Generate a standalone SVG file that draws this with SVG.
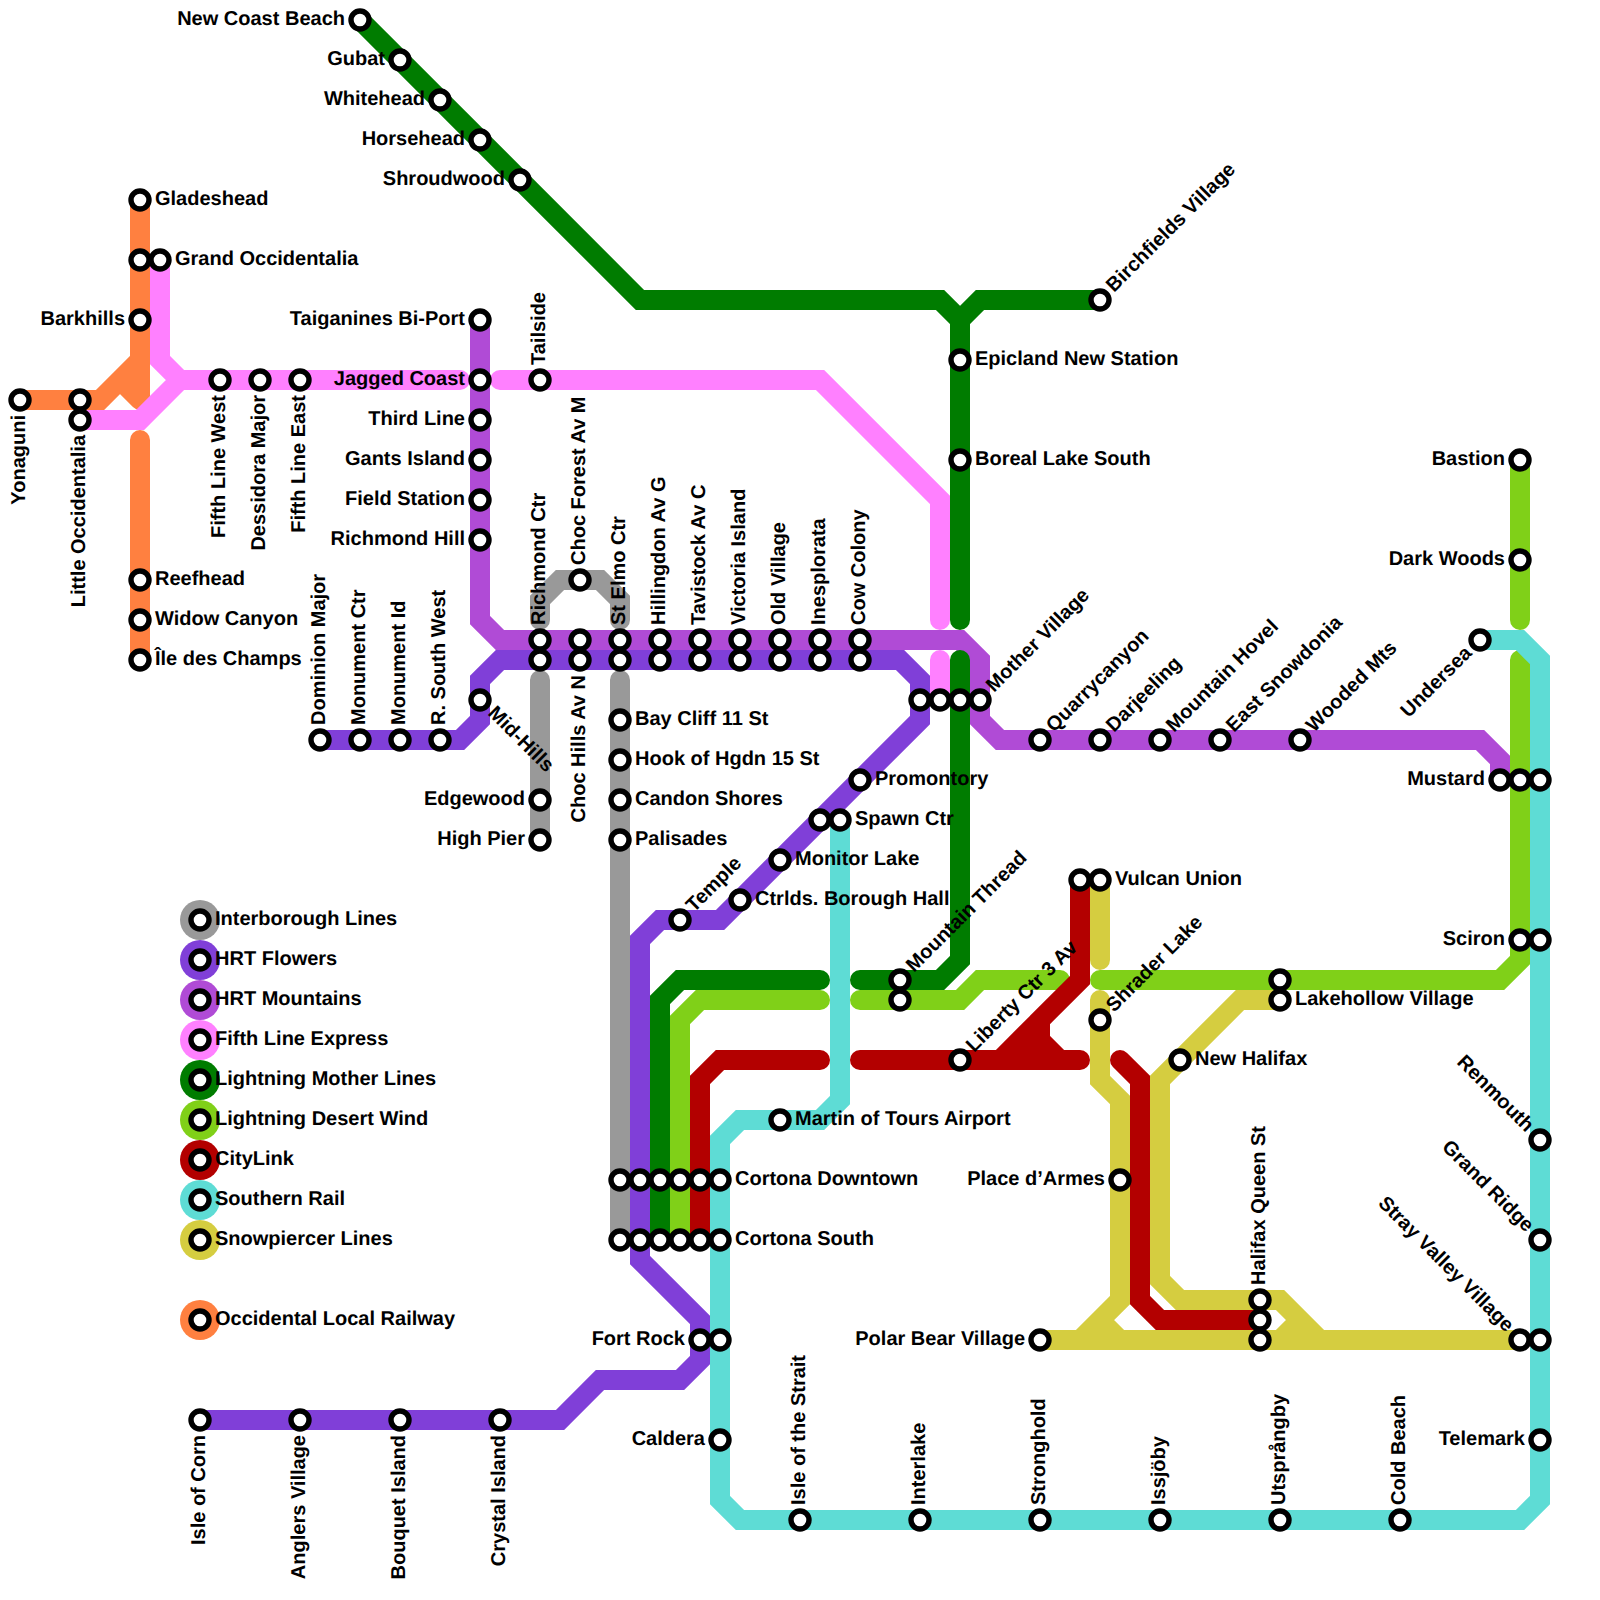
<svg xmlns="http://www.w3.org/2000/svg" width="1600" height="1600" viewBox="0 0 1600 1600">
<style>
text{font-family:"Liberation Sans",Arial,sans-serif;font-weight:bold;font-size:20px;fill:#000;text-rendering:geometricPrecision}
.e{text-anchor:end}
.st{fill:#fff;stroke:#000;stroke-width:5.4}
.l{fill:none;stroke-width:20;stroke-linecap:round;stroke-linejoin:miter}
.orange{stroke:#ff8040}.pink{stroke:#ff80ff}.gray{stroke:#999}.flowers{stroke:#803fd8}.mount{stroke:#b04bd6}.green{stroke:#007c00}.desert{stroke:#80d018}.red{stroke:#b30000}.south{stroke:#5edcd5}.snow{stroke:#d5cd40}
</style>
<rect width="1600" height="1600" fill="#fff"/>
<g id="connectors">
<path class="l orange" d="M20,400H100L140,360M140,200V400M120,380L140,400M140,440V660"/>
<path class="l gray" d="M540,620V600L560,580H600L620,600V620M540,680V840M620,680V1240"/>
<path class="l flowers" d="M320,740H460L480,720V680L500,660H900L920,680V720L720,920H660L640,940V1260L700,1320V1360L680,1380H600L560,1420H200"/>
<path class="l mount" d="M480,320V620L500,640H960L980,660V720L1000,740H1480L1500,760V780"/>
<path class="l pink" d="M160,260V360L180,380H460M80,420H140L180,380M500,380H820L940,500V620M940,660V700"/>
<path class="l green" d="M360,20L640,300H940L960,320V620M1100,300H980L960,320M960,660V960L940,980H860M820,980H680L660,1000V1240"/>
<path class="l desert" d="M1520,460V620M1520,660V960L1500,980H1100M1060,980H980L960,1000H860M820,1000H700L680,1020V1240"/>
<path class="l red" d="M1080,880V980L1000,1060M860,1060H1080M1080,980L1040,1020V1040L1060,1060M1040,1040L1030,1050M820,1060H720L700,1080V1240M1120,1060L1140,1080V1300L1160,1320H1260"/>
<path class="l south" d="M1480,640H1520L1540,660V1500L1520,1520H740L720,1500V1140L740,1120H820L840,1100V820"/>
<path class="l snow" d="M1100,880V960M1100,1000V1080L1120,1100V1300L1080,1340M1040,1340H1520M1100,1320L1120,1340M1280,1000H1240L1160,1080V1280L1180,1300H1280L1320,1340M1300,1320L1280,1340"/>
</g>
<g id="legend">
<g id="legend-interborough"><circle cx="200" cy="920" r="20" fill="#999"/><circle class="st" cx="200" cy="920" r="9"/><text x="215" y="925">Interborough Lines</text></g>
<g id="legend-flowers"><circle cx="200" cy="960" r="20" fill="#803fd8"/><circle class="st" cx="200" cy="960" r="9"/><text x="215" y="965">HRT Flowers</text></g>
<g id="legend-mountains"><circle cx="200" cy="1000" r="20" fill="#b04bd6"/><circle class="st" cx="200" cy="1000" r="9"/><text x="215" y="1005">HRT Mountains</text></g>
<g id="legend-fifth"><circle cx="200" cy="1040" r="20" fill="#ff80ff"/><circle class="st" cx="200" cy="1040" r="9"/><text x="215" y="1045">Fifth Line Express</text></g>
<g id="legend-mother"><circle cx="200" cy="1080" r="20" fill="#007c00"/><circle class="st" cx="200" cy="1080" r="9"/><text x="215" y="1085">Lightning Mother Lines</text></g>
<g id="legend-desert"><circle cx="200" cy="1120" r="20" fill="#80d018"/><circle class="st" cx="200" cy="1120" r="9"/><text x="215" y="1125">Lightning Desert Wind</text></g>
<g id="legend-citylink"><circle cx="200" cy="1160" r="20" fill="#b30000"/><circle class="st" cx="200" cy="1160" r="9"/><text x="215" y="1165">CityLink</text></g>
<g id="legend-southern"><circle cx="200" cy="1200" r="20" fill="#5edcd5"/><circle class="st" cx="200" cy="1200" r="9"/><text x="215" y="1205">Southern Rail</text></g>
<g id="legend-snowpiercer"><circle cx="200" cy="1240" r="20" fill="#d5cd40"/><circle class="st" cx="200" cy="1240" r="9"/><text x="215" y="1245">Snowpiercer Lines</text></g>
<g id="legend-occidental"><circle cx="200" cy="1320" r="20" fill="#ff8040"/><circle class="st" cx="200" cy="1320" r="9"/><text x="215" y="1325">Occidental Local Railway</text></g>
</g>
<g id="stations">
<g id="n-gladeshead"><circle class="st" cx="140" cy="200" r="9"/><text x="155" y="205">Gladeshead</text></g>
<g id="n-occ-a"><circle class="st" cx="140" cy="260" r="9"/></g>
<g id="n-grand-occidentalia"><circle class="st" cx="160" cy="260" r="9"/><text x="175" y="265">Grand Occidentalia</text></g>
<g id="n-barkhills"><circle class="st" cx="140" cy="320" r="9"/><text class="e" x="125" y="325">Barkhills</text></g>
<g id="n-yonaguni"><circle class="st" cx="20" cy="400" r="9"/><text class="e" x="25" y="415" transform="rotate(-90 25 415)">Yonaguni</text></g>
<g id="n-occ-b"><circle class="st" cx="80" cy="400" r="9"/></g>
<g id="n-little-occidentalia"><circle class="st" cx="80" cy="420" r="9"/><text class="e" x="85" y="435" transform="rotate(-90 85 435)">Little Occidentalia</text></g>
<g id="n-reefhead"><circle class="st" cx="140" cy="580" r="9"/><text x="155" y="585">Reefhead</text></g>
<g id="n-widow"><circle class="st" cx="140" cy="620" r="9"/><text x="155" y="625">Widow Canyon</text></g>
<g id="n-ile"><circle class="st" cx="140" cy="660" r="9"/><text x="155" y="665">Île des Champs</text></g>
<g id="n-fifth-west"><circle class="st" cx="220" cy="380" r="9"/><text class="e" x="225" y="395" transform="rotate(-90 225 395)">Fifth Line West</text></g>
<g id="n-dessidora"><circle class="st" cx="260" cy="380" r="9"/><text class="e" x="265" y="395" transform="rotate(-90 265 395)">Dessidora Major</text></g>
<g id="n-fifth-east"><circle class="st" cx="300" cy="380" r="9"/><text class="e" x="305" y="395" transform="rotate(-90 305 395)">Fifth Line East</text></g>
<g id="n-taiganines"><circle class="st" cx="480" cy="320" r="9"/><text class="e" x="465" y="325">Taiganines Bi-Port</text></g>
<g id="n-jagged"><circle class="st" cx="480" cy="380" r="9"/><text class="e" x="465" y="385">Jagged Coast</text></g>
<g id="n-third"><circle class="st" cx="480" cy="420" r="9"/><text class="e" x="465" y="425">Third Line</text></g>
<g id="n-gants"><circle class="st" cx="480" cy="460" r="9"/><text class="e" x="465" y="465">Gants Island</text></g>
<g id="n-field"><circle class="st" cx="480" cy="500" r="9"/><text class="e" x="465" y="505">Field Station</text></g>
<g id="n-richmond-hill"><circle class="st" cx="480" cy="540" r="9"/><text class="e" x="465" y="545">Richmond Hill</text></g>
<g id="n-tailside"><circle class="st" cx="540" cy="380" r="9"/><text x="545" y="365" transform="rotate(-90 545 365)">Tailside</text></g>
<g id="n-new-coast"><circle class="st" cx="360" cy="20" r="9"/><text class="e" x="345" y="25">New Coast Beach</text></g>
<g id="n-gubat"><circle class="st" cx="400" cy="60" r="9"/><text class="e" x="385" y="65">Gubat</text></g>
<g id="n-whitehead"><circle class="st" cx="440" cy="100" r="9"/><text class="e" x="425" y="105">Whitehead</text></g>
<g id="n-horsehead"><circle class="st" cx="480" cy="140" r="9"/><text class="e" x="465" y="145">Horsehead</text></g>
<g id="n-shroudwood"><circle class="st" cx="520" cy="180" r="9"/><text class="e" x="505" y="185">Shroudwood</text></g>
<g id="n-birchfields"><circle class="st" cx="1100" cy="300" r="9"/><text x="1114.1" y="292.9" transform="rotate(-45 1114.1 292.9)">Birchfields Village</text></g>
<g id="n-epicland"><circle class="st" cx="960" cy="360" r="9"/><text x="975" y="365">Epicland New Station</text></g>
<g id="n-boreal"><circle class="st" cx="960" cy="460" r="9"/><text x="975" y="465">Boreal Lake South</text></g>
<g id="n-dominion"><circle class="st" cx="320" cy="740" r="9"/><text x="325" y="725" transform="rotate(-90 325 725)">Dominion Major</text></g>
<g id="n-monument-ctr"><circle class="st" cx="360" cy="740" r="9"/><text x="365" y="725" transform="rotate(-90 365 725)">Monument Ctr</text></g>
<g id="n-monument-id"><circle class="st" cx="400" cy="740" r="9"/><text x="405" y="725" transform="rotate(-90 405 725)">Monument Id</text></g>
<g id="n-south-west"><circle class="st" cx="440" cy="740" r="9"/><text x="445" y="725" transform="rotate(-90 445 725)">R. South West</text></g>
<g id="n-mid-hills"><circle class="st" cx="480" cy="700" r="9"/><text x="487.1" y="714.1" transform="rotate(45 487.1 714.1)">Mid-Hills</text></g>
<g id="n-choc-forest"><circle class="st" cx="580" cy="580" r="9"/><text x="585" y="565" transform="rotate(-90 585 565)">Choc Forest Av M</text></g>
<g id="n-richmond-ctr"><circle class="st" cx="540" cy="640" r="9"/><circle class="st" cx="540" cy="660" r="9"/><text x="545" y="625" transform="rotate(-90 545 625)">Richmond Ctr</text></g>
<g id="n-choc-hills"><circle class="st" cx="580" cy="640" r="9"/><circle class="st" cx="580" cy="660" r="9"/><text class="e" x="585" y="675" transform="rotate(-90 585 675)">Choc Hills Av N</text></g>
<g id="n-st-elmo"><circle class="st" cx="620" cy="640" r="9"/><circle class="st" cx="620" cy="660" r="9"/><text x="625" y="625" transform="rotate(-90 625 625)">St Elmo Ctr</text></g>
<g id="n-hillingdon"><circle class="st" cx="660" cy="640" r="9"/><circle class="st" cx="660" cy="660" r="9"/><text x="665" y="625" transform="rotate(-90 665 625)">Hillingdon Av G</text></g>
<g id="n-tavistock"><circle class="st" cx="700" cy="640" r="9"/><circle class="st" cx="700" cy="660" r="9"/><text x="705" y="625" transform="rotate(-90 705 625)">Tavistock Av C</text></g>
<g id="n-victoria"><circle class="st" cx="740" cy="640" r="9"/><circle class="st" cx="740" cy="660" r="9"/><text x="745" y="625" transform="rotate(-90 745 625)">Victoria Island</text></g>
<g id="n-old-village"><circle class="st" cx="780" cy="640" r="9"/><circle class="st" cx="780" cy="660" r="9"/><text x="785" y="625" transform="rotate(-90 785 625)">Old Village</text></g>
<g id="n-inesplorata"><circle class="st" cx="820" cy="640" r="9"/><circle class="st" cx="820" cy="660" r="9"/><text x="825" y="625" transform="rotate(-90 825 625)">Inesplorata</text></g>
<g id="n-cow-colony"><circle class="st" cx="860" cy="640" r="9"/><circle class="st" cx="860" cy="660" r="9"/><text x="865" y="625" transform="rotate(-90 865 625)">Cow Colony</text></g>
<g id="n-mother-village"><circle class="st" cx="920" cy="700" r="9"/><circle class="st" cx="940" cy="700" r="9"/><circle class="st" cx="960" cy="700" r="9"/><circle class="st" cx="980" cy="700" r="9"/><text x="994.1" y="692.9" transform="rotate(-45 994.1 692.9)">Mother Village</text></g>
<g id="n-quarrycanyon"><circle class="st" cx="1040" cy="740" r="9"/><text x="1054.1" y="732.9" transform="rotate(-45 1054.1 732.9)">Quarrycanyon</text></g>
<g id="n-darjeeling"><circle class="st" cx="1100" cy="740" r="9"/><text x="1114.1" y="732.9" transform="rotate(-45 1114.1 732.9)">Darjeeling</text></g>
<g id="n-mountain-hovel"><circle class="st" cx="1160" cy="740" r="9"/><text x="1174.1" y="732.9" transform="rotate(-45 1174.1 732.9)">Mountain Hovel</text></g>
<g id="n-east-snowdonia"><circle class="st" cx="1220" cy="740" r="9"/><text x="1234.1" y="732.9" transform="rotate(-45 1234.1 732.9)">East Snowdonia</text></g>
<g id="n-wooded"><circle class="st" cx="1300" cy="740" r="9"/><text x="1314.1" y="732.9" transform="rotate(-45 1314.1 732.9)">Wooded Mts</text></g>
<g id="n-bay-cliff"><circle class="st" cx="620" cy="720" r="9"/><text x="635" y="725">Bay Cliff 11 St</text></g>
<g id="n-hook"><circle class="st" cx="620" cy="760" r="9"/><text x="635" y="765">Hook of Hgdn 15 St</text></g>
<g id="n-candon"><circle class="st" cx="620" cy="800" r="9"/><text x="635" y="805">Candon Shores</text></g>
<g id="n-palisades"><circle class="st" cx="620" cy="840" r="9"/><text x="635" y="845">Palisades</text></g>
<g id="n-edgewood"><circle class="st" cx="540" cy="800" r="9"/><text class="e" x="525" y="805">Edgewood</text></g>
<g id="n-high-pier"><circle class="st" cx="540" cy="840" r="9"/><text class="e" x="525" y="845">High Pier</text></g>
<g id="n-promontory"><circle class="st" cx="860" cy="780" r="9"/><text x="875" y="785">Promontory</text></g>
<g id="n-spawn"><circle class="st" cx="820" cy="820" r="9"/><circle class="st" cx="840" cy="820" r="9"/><text x="855" y="825">Spawn Ctr</text></g>
<g id="n-monitor"><circle class="st" cx="780" cy="860" r="9"/><text x="795" y="865">Monitor Lake</text></g>
<g id="n-ctrlds"><circle class="st" cx="740" cy="900" r="9"/><text x="755" y="905">Ctrlds. Borough Hall</text></g>
<g id="n-temple"><circle class="st" cx="680" cy="920" r="9"/><text x="694.1" y="912.9" transform="rotate(-45 694.1 912.9)">Temple</text></g>
<g id="n-mountain-thread"><circle class="st" cx="900" cy="980" r="9"/><circle class="st" cx="900" cy="1000" r="9"/><text x="914.1" y="972.9" transform="rotate(-45 914.1 972.9)">Mountain Thread</text></g>
<g id="n-liberty"><circle class="st" cx="960" cy="1060" r="9"/><text x="974.1" y="1052.9" transform="rotate(-45 974.1 1052.9)">Liberty Ctr 3 Av</text></g>
<g id="n-vulcan"><circle class="st" cx="1080" cy="880" r="9"/><circle class="st" cx="1100" cy="880" r="9"/><text x="1115" y="885">Vulcan Union</text></g>
<g id="n-shrader"><circle class="st" cx="1100" cy="1020" r="9"/><text x="1114.1" y="1012.9" transform="rotate(-45 1114.1 1012.9)">Shrader Lake</text></g>
<g id="n-lakehollow"><circle class="st" cx="1280" cy="980" r="9"/><circle class="st" cx="1280" cy="1000" r="9"/><text x="1295" y="1005">Lakehollow Village</text></g>
<g id="n-new-halifax"><circle class="st" cx="1180" cy="1060" r="9"/><text x="1195" y="1065">New Halifax</text></g>
<g id="n-martin"><circle class="st" cx="780" cy="1120" r="9"/><text x="795" y="1125">Martin of Tours Airport</text></g>
<g id="n-cortona-downtown"><circle class="st" cx="620" cy="1180" r="9"/><circle class="st" cx="640" cy="1180" r="9"/><circle class="st" cx="660" cy="1180" r="9"/><circle class="st" cx="680" cy="1180" r="9"/><circle class="st" cx="700" cy="1180" r="9"/><circle class="st" cx="720" cy="1180" r="9"/><text x="735" y="1185">Cortona Downtown</text></g>
<g id="n-cortona-south"><circle class="st" cx="620" cy="1240" r="9"/><circle class="st" cx="640" cy="1240" r="9"/><circle class="st" cx="660" cy="1240" r="9"/><circle class="st" cx="680" cy="1240" r="9"/><circle class="st" cx="700" cy="1240" r="9"/><circle class="st" cx="720" cy="1240" r="9"/><text x="735" y="1245">Cortona South</text></g>
<g id="n-place-armes"><circle class="st" cx="1120" cy="1180" r="9"/><text class="e" x="1105" y="1185">Place d’Armes</text></g>
<g id="n-polar-bear"><circle class="st" cx="1040" cy="1340" r="9"/><text class="e" x="1025" y="1345">Polar Bear Village</text></g>
<g id="n-halifax-queen"><circle class="st" cx="1260" cy="1340" r="9"/><circle class="st" cx="1260" cy="1320" r="9"/><circle class="st" cx="1260" cy="1300" r="9"/><text x="1265" y="1285" transform="rotate(-90 1265 1285)">Halifax Queen St</text></g>
<g id="n-fort-rock"><circle class="st" cx="700" cy="1340" r="9"/><circle class="st" cx="720" cy="1340" r="9"/><text class="e" x="685" y="1345">Fort Rock</text></g>
<g id="n-caldera"><circle class="st" cx="720" cy="1440" r="9"/><text class="e" x="705" y="1445">Caldera</text></g>
<g id="n-isle-corn"><circle class="st" cx="200" cy="1420" r="9"/><text class="e" x="205" y="1435" transform="rotate(-90 205 1435)">Isle of Corn</text></g>
<g id="n-anglers"><circle class="st" cx="300" cy="1420" r="9"/><text class="e" x="305" y="1435" transform="rotate(-90 305 1435)">Anglers Village</text></g>
<g id="n-bouquet"><circle class="st" cx="400" cy="1420" r="9"/><text class="e" x="405" y="1435" transform="rotate(-90 405 1435)">Bouquet Island</text></g>
<g id="n-crystal"><circle class="st" cx="500" cy="1420" r="9"/><text class="e" x="505" y="1435" transform="rotate(-90 505 1435)">Crystal Island</text></g>
<g id="n-isle-strait"><circle class="st" cx="800" cy="1520" r="9"/><text x="805" y="1505" transform="rotate(-90 805 1505)">Isle of the Strait</text></g>
<g id="n-interlake"><circle class="st" cx="920" cy="1520" r="9"/><text x="925" y="1505" transform="rotate(-90 925 1505)">Interlake</text></g>
<g id="n-stronghold"><circle class="st" cx="1040" cy="1520" r="9"/><text x="1045" y="1505" transform="rotate(-90 1045 1505)">Stronghold</text></g>
<g id="n-issjoby"><circle class="st" cx="1160" cy="1520" r="9"/><text x="1165" y="1505" transform="rotate(-90 1165 1505)">Issjöby</text></g>
<g id="n-utsprangby"><circle class="st" cx="1280" cy="1520" r="9"/><text x="1285" y="1505" transform="rotate(-90 1285 1505)">Utsprångby</text></g>
<g id="n-cold-beach"><circle class="st" cx="1400" cy="1520" r="9"/><text x="1405" y="1505" transform="rotate(-90 1405 1505)">Cold Beach</text></g>
<g id="n-bastion"><circle class="st" cx="1520" cy="460" r="9"/><text class="e" x="1505" y="465">Bastion</text></g>
<g id="n-dark-woods"><circle class="st" cx="1520" cy="560" r="9"/><text class="e" x="1505" y="565">Dark Woods</text></g>
<g id="n-undersea"><circle class="st" cx="1480" cy="640" r="9"/><text class="e" x="1472.9" y="654.1" transform="rotate(-45 1472.9 654.1)">Undersea</text></g>
<g id="n-mustard"><circle class="st" cx="1500" cy="780" r="9"/><circle class="st" cx="1520" cy="780" r="9"/><circle class="st" cx="1540" cy="780" r="9"/><text class="e" x="1485" y="785">Mustard</text></g>
<g id="n-sciron"><circle class="st" cx="1520" cy="940" r="9"/><circle class="st" cx="1540" cy="940" r="9"/><text class="e" x="1505" y="945">Sciron</text></g>
<g id="n-renmouth"><circle class="st" cx="1540" cy="1140" r="9"/><text class="e" x="1525.9" y="1132.9" transform="rotate(45 1525.9 1132.9)">Renmouth</text></g>
<g id="n-grand-ridge"><circle class="st" cx="1540" cy="1240" r="9"/><text class="e" x="1525.9" y="1232.9" transform="rotate(45 1525.9 1232.9)">Grand Ridge</text></g>
<g id="n-stray-valley"><circle class="st" cx="1520" cy="1340" r="9"/><circle class="st" cx="1540" cy="1340" r="9"/><text class="e" x="1505.9" y="1332.9" transform="rotate(45 1505.9 1332.9)">Stray Valley Village</text></g>
<g id="n-telemark"><circle class="st" cx="1540" cy="1440" r="9"/><text class="e" x="1525" y="1445">Telemark</text></g>
</g>
</svg>
